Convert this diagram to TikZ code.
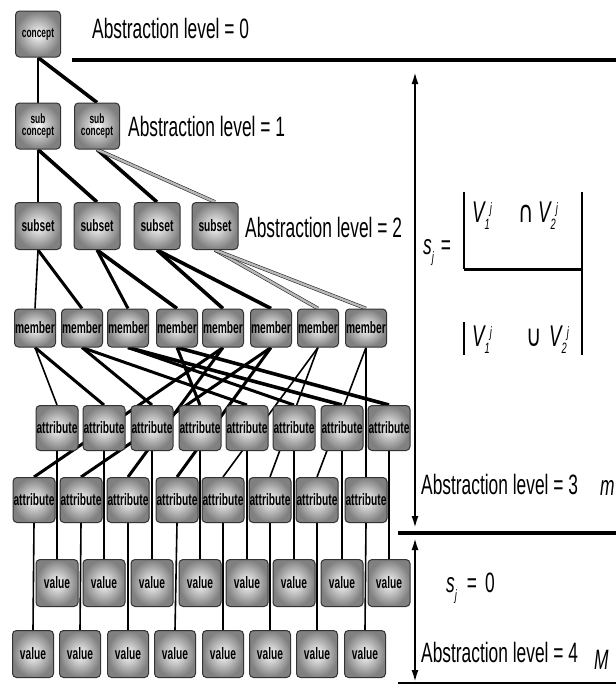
\documentclass[tikz,border=0pt]{standalone}
\usepackage{fontspec}
\setmainfont{Liberation Sans}[FakeStretch=0.62]
\newfontfamily\symfont{DejaVu Sans}[FakeStretch=0.7]
\usetikzlibrary{arrows.meta,backgrounds}
\newcommand{\smf}{\fontsize{15}{15}\selectfont\itshape}
\newcommand{\Vj}[1]{{\itshape V}\raisebox{-7pt}{\smf #1}\raisebox{9pt}{\smf j}}
\tikzset{
  box/.style={draw=black!80, line width=1pt, rounded corners=4pt,
    inner color=gray!4, outer color=black!50, inner sep=0pt, align=center,
    font=\bfseries\fontsize{16.5}{16}\selectfont},
  smallbox/.style={box, font=\bfseries\fontsize{13.5}{12.5}\selectfont},
  lvl/.style={font=\fontsize{28}{30}\selectfont, anchor=west, inner sep=0pt},
  frm/.style={font=\fontsize{30}{32}\selectfont, inner sep=0pt},
  thinl/.style={line width=1.6pt},
  thickl/.style={line width=3pt},
  heavyl/.style={line width=3.6pt},
  grayl/.style={draw=black!85, line width=0.6pt, double=gray!55, double distance=2.4pt},
  tip/.style={{Latex[length=12pt,width=7pt]}-{Latex[length=12pt,width=7pt]}, line width=2pt}
}
\begin{document}
\begin{tikzpicture}[x=1pt,y=-1pt]
\useasboundingbox (0,0) rectangle (616,686);
% boxes
\node[smallbox, minimum width=45, minimum height=46] (c0) at (38,34) {concept};
\node[smallbox, minimum width=45, minimum height=46] (sc1) at (38,126) {sub\\concept};
\node[smallbox, minimum width=45, minimum height=46] (sc2) at (97,126) {sub\\concept};
\foreach \x [count=\i] in {38,97,157,215}
  \node[box, minimum width=46, minimum height=47] (ss\i) at (\x,226) {subset};
\foreach \x [count=\i] in {35,82,128,177,223,271,318,366}
  \node[box, minimum width=41, minimum height=38] (m\i) at (\x,328) {member};
\foreach \x [count=\i] in {57,104,152,200,247,294,342,389}
  \node[box, minimum width=42, minimum height=45] (a\i) at (\x,428) {attribute};
\foreach \x [count=\i] in {34,81,128,177,223,270,317,366}
  \node[box, minimum width=42, minimum height=45] (b\i) at (\x,500) {attribute};
\foreach \x [count=\i] in {57,104,152,200,247,294,342,389}
  \node[box, minimum width=42, minimum height=47] (v\i) at (\x,583) {value};
\foreach \x [count=\i] in {33,80,128,175,223,270,317,365}
  \node[box, minimum width=41, minimum height=47] (w\i) at (\x,654) {value};
% connectors
\begin{scope}[on background layer]
\draw[thinl] (c0.south) -- (sc1.north);
\draw[heavyl] (c0.south) -- (sc2.north);
\draw[thinl] (sc1.south) -- (ss1.north);
\draw[heavyl] (sc1.south) -- (ss2.north);
\draw[heavyl] (sc2.south) -- (ss3.north);
\draw[grayl] (sc2.south) -- (ss4.north);
\draw[thinl] (ss1.south) -- (m1.north);
\draw[thickl] (ss1.south) -- (m2.north);
\draw[thickl] (ss2.south) -- (m3.north);
\draw[heavyl] (ss2.south) -- (m4.north);
\draw[heavyl] (ss3.south) -- (m5.north);
\draw[heavyl] (ss3.south) -- (m6.north);
\draw[grayl] (ss4.south) -- (m7.north);
\draw[grayl] (ss4.south) -- (m8.north);
\draw[thinl] (m1.south) -- (a1.north);
\draw[thickl] (m1.south) -- (a2.north);
\draw[thickl] (m2.south) -- (a3.north);
\draw[thickl] (m2.south) -- (a5.north);
\draw[thickl] (m3.south) -- (a6.north);
\draw[heavyl] (m3.south) -- (a7.north);
\draw[thickl] (m4.south) -- (a4.north);
\draw[heavyl] (m4.south) -- (a8.north);
\draw[thickl] (m5.south) -- (b1.north);
\draw[thickl] (m5.south) -- (b3.north);
\draw[thickl] (m6.south) -- (b2.north);
\draw[thickl] (m6.south) -- (b4.north);
\draw[thinl] (m7.south) -- (b5.north);
\draw[thinl] (m7.south) -- (b6.north);
\draw[thinl] (m8.south) -- (b7.north);
\draw[thinl] (m8.south) -- (b8.north);
\foreach \i in {1,...,8} {
  \draw[thinl] (a\i.south) -- (v\i.north);
  \draw[thinl] (b\i.south) -- (w\i.north);
}
\end{scope}
% level labels
\node[lvl] (L0) at (92,28) {Abstraction level = 0};
\node[lvl] (L1) at (128,126) {Abstraction level = 1};
\node[lvl] (L2) at (245,227) {Abstraction level = 2};
\node[lvl] (L3) at (421,484) {Abstraction level = 3};
\node[lvl, font=\fontsize{28}{30}\selectfont\itshape] (Lm) at (600,488) {m};
\node[lvl] (L4) at (421,652) {Abstraction level = 4};
\node[lvl, font=\fontsize{28}{30}\selectfont\itshape] (LM) at (594,660) {M};
\node[lvl] (sj0) at (446,588) {{\itshape s}\raisebox{-8pt}{\smf j}\hspace{10pt}=\hspace{8pt}0};
% separator lines
\coordinate (t1) at (72,60); \coordinate (t2) at (616,60);
\coordinate (u1) at (398,533); \coordinate (u2) at (616,533);
\coordinate (z1) at (398,683); \coordinate (z2) at (616,683);
\draw[line width=3.5pt] (t1) -- (t2);
\draw[line width=4pt] (u1) -- (u2);
\draw[line width=2pt] (z1) -- (z2);
% arrows
\coordinate (ar1) at (415,72); \coordinate (ar2) at (415,528);
\coordinate (ar3) at (415,538); \coordinate (ar4) at (415,682);
\draw[tip] (ar1) -- (ar2);
\draw[tip] (ar3) -- (ar4);
% formula
\node[lvl] (sj) at (423,253) {{\itshape s}\raisebox{-8pt}{\smf j}\hspace{7pt}=};
\node[frm, anchor=base west] (n1) at (472,222) {\Vj{1}};
\node[frm, anchor=base] (ncap) at (526,222) {\symfont ∩};
\node[frm, anchor=base west] (n2) at (538,222) {\Vj{2}};
\node[frm, anchor=base west] (d1) at (472,346) {\Vj{1}};
\node[frm, anchor=base] (dcup) at (534,346) {\symfont ∪};
\node[frm, anchor=base west] (d2) at (549,346) {\Vj{2}};
\coordinate (fa) at (464,192); \coordinate (fb) at (464,269); \coordinate (fc) at (583,269);
\coordinate (fd) at (582,192); \coordinate (fe) at (582,355);
\coordinate (ff) at (464,322); \coordinate (fg) at (464,355);
\draw[line width=2pt] (fa) -- (fb);
\draw[line width=3pt] (fb) -- (fc);
\draw[line width=2pt] (fd) -- (fe);
\draw[line width=2pt] (ff) -- (fg);
\end{tikzpicture}
\end{document}
